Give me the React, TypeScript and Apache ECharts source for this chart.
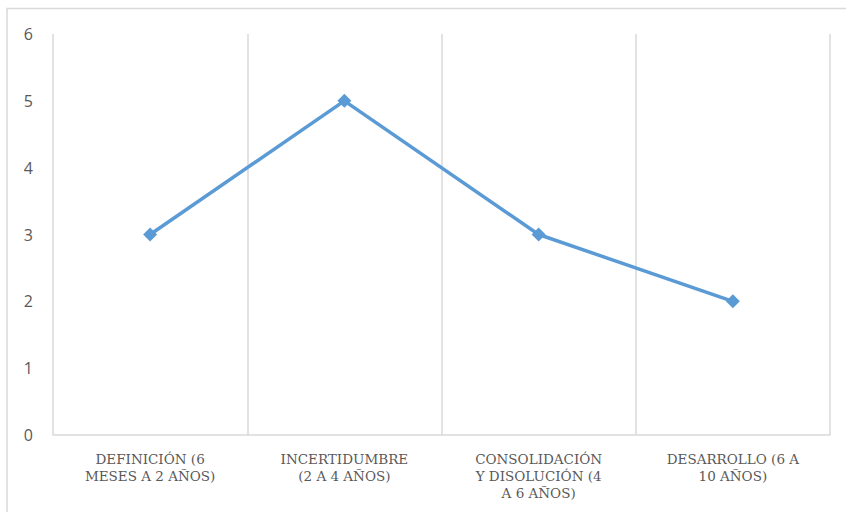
import React, { useEffect, useRef } from "react";
import * as echarts from "echarts";

const categories = [
  "DEFINICIÓN (6\nMESES A 2 AÑOS)",
  "INCERTIDUMBRE\n(2 A 4 AÑOS)",
  "CONSOLIDACIÓN\nY DISOLUCIÓN (4\nA 6 AÑOS)",
  "DESARROLLO (6 A\n10 AÑOS)",
];
const values = [3, 5, 3, 2];
const yTicks = { min: 0, max: 6, interval: 1 };

export default function App() {
  const ref = useRef<HTMLDivElement>(null);
  useEffect(() => {
    if (!ref.current) return;
    const chart = echarts.init(ref.current, undefined, { renderer: "svg" });
    chart.setOption({
      animation: false,
      backgroundColor: "#ffffff",
      graphic: [
        {
          type: "rect",
          shape: { x: 7, y: 8.5, width: 900, height: 600 },
          style: { fill: "none", stroke: "#D9D9D9", lineWidth: 1.5 },
          silent: true,
        },
      ],
      grid: { left: 53, right: 16, top: 34, bottom: 77 },
      xAxis: {
        type: "category",
        data: categories,
        boundaryGap: true,
        axisLine: { show: true, lineStyle: { color: "#D9D9D9", width: 1.5 } },
        axisTick: { show: false },
        splitLine: { show: true, lineStyle: { color: "#D9D9D9", width: 1.5 } },
        axisLabel: {
          interval: 0,
          margin: 15,
          color: "#595959",
          fontFamily: "DejaVu Serif",
          fontSize: 13.5,
          lineHeight: 17,
          align: "center",
        },
      },
      yAxis: {
        type: "value",
        min: yTicks.min,
        max: yTicks.max,
        interval: yTicks.interval,
        axisLine: { show: false },
        axisTick: { show: false },
        splitLine: { show: false },
        axisLabel: {
          color: "#595959",
          fontFamily: "Open Sans",
          fontSize: 16,
          margin: 20,
        },
      },
      series: [
        {
          type: "line",
          data: values,
          symbol: "diamond",
          symbolSize: 14,
          itemStyle: { color: "#5B9BD5" },
          lineStyle: { color: "#5B9BD5", width: 3.5 },
        },
      ],
    });
    return () => chart.dispose();
  }, []);
  return (
    <div
      ref={ref}
      style={{ position: "fixed", left: 0, top: 0, width: 846, height: 512 }}
    />
  );
}
